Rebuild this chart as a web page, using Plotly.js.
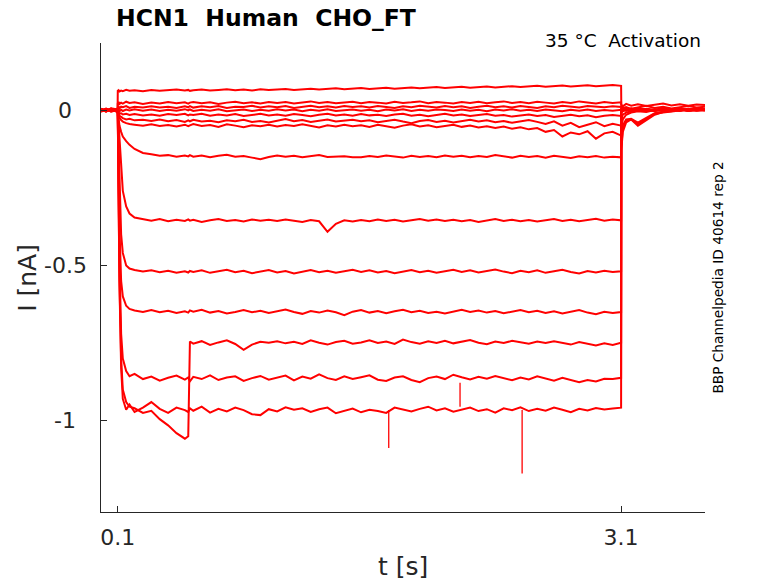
<!DOCTYPE html>
<html>
<head>
<meta charset="utf-8">
<script src="https://cdn.plot.ly/plotly-3.0.1.min.js"></script>
<style>
  html, body { margin: 0; padding: 0; background: #ffffff; }
  #chart { width: 778px; height: 583px; }
</style>
</head>
<body>
<div id="chart"></div>
<script>
// time base [s]: holding, step onset, step, tail
const t = [
  0, 0.03, 0.06, 0.099,
  0.1, 0.105, 0.11, 0.12, 0.13, 0.15, 0.17, 0.2, 0.25,
  0.3, 0.35, 0.4, 0.45, 0.5,
  0.52, 0.53,
  0.55, 0.6, 0.65, 0.7, 0.75, 0.8, 0.85, 0.9, 0.95, 1.0,
  1.05, 1.1, 1.15, 1.2, 1.25, 1.3, 1.35, 1.4, 1.45, 1.5,
  1.55, 1.6, 1.65, 1.7, 1.75, 1.8, 1.85, 1.9, 1.95, 2.0,
  2.05, 2.1, 2.15, 2.2, 2.25, 2.3, 2.35, 2.4, 2.45, 2.5,
  2.55, 2.6, 2.65, 2.7, 2.75, 2.8, 2.85, 2.9, 2.95, 3.0,
  3.05, 3.1,
  3.101, 3.11, 3.13, 3.16, 3.2, 3.25, 3.3, 3.35, 3.4, 3.45, 3.5, 3.55, 3.6
];

// current [nA], one array per sweep
const sweep01 = [
  0.004, -0.003, 0.006, 0.002,
  0.062, 0.064, 0.06, 0.063, 0.061, 0.065, 0.062, 0.064, 0.061,
  0.065, 0.062, 0.064, 0.066, 0.063,
  0.065, 0.062,
  0.064, 0.066, 0.063, 0.065, 0.067, 0.064, 0.066, 0.063, 0.067, 0.065,
  0.066, 0.068, 0.065, 0.067, 0.069, 0.066, 0.068, 0.07, 0.067, 0.069,
  0.071, 0.068, 0.07, 0.072, 0.069, 0.071, 0.073, 0.07, 0.072, 0.074,
  0.071, 0.073, 0.075, 0.072, 0.074, 0.076, 0.073, 0.075, 0.077, 0.074,
  0.076, 0.078, 0.075, 0.077, 0.079, 0.076, 0.078, 0.08, 0.077, 0.079,
  0.081, 0.078,
  0.018, 0.012, 0.02, 0.014, 0.019, 0.013, 0.017, 0.021, 0.015, 0.019, 0.014, 0.018, 0.016
];
const sweep02 = [
  -0.004, 0.005, -0.002, 0.003,
  0.022, 0.026, 0.02, 0.024, 0.021, 0.027, 0.023, 0.025, 0.02,
  0.024, 0.021, 0.026, 0.022, 0.025,
  0.021, 0.024,
  0.026, 0.022, 0.025, 0.02, 0.024, 0.027, 0.022, 0.025, 0.021, 0.026,
  0.023, 0.026, 0.021, 0.025, 0.028, 0.023, 0.026, 0.022, 0.025, 0.027,
  0.022, 0.026, 0.024, 0.021, 0.027, 0.023, 0.025, 0.028, 0.022, 0.026,
  0.024, 0.021, 0.026, 0.023, 0.027, 0.022, 0.025, 0.028, 0.023, 0.026,
  0.022, 0.027, 0.024, 0.021, 0.026, 0.023, 0.028, 0.024, 0.021, 0.026,
  0.023, 0.025,
  0.012, 0.006, 0.01, 0.004, 0.009, 0.014, 0.007, 0.011, 0.005, 0.01, 0.013, 0.008, 0.011
];
const sweep03 = [
  0.002, -0.005, 0.004, -0.002,
  0.008, 0.012, 0.006, 0.011, 0.009, 0.013, 0.007, 0.011, 0.008,
  0.012, 0.008, 0.011, 0.007, 0.012,
  0.009, 0.013,
  0.008, 0.012, 0.009, 0.013, 0.007, 0.011, 0.01, 0.014, 0.008, 0.012,
  0.009, 0.013, 0.007, 0.011, 0.014, 0.009, 0.012, 0.008, 0.013, 0.01,
  0.012, 0.008, 0.013, 0.01, 0.007, 0.012, 0.009, 0.014, 0.01, 0.008,
  0.013, 0.009, 0.012, 0.007, 0.011, 0.014, 0.009, 0.012, 0.008, 0.013,
  0.01, 0.007, 0.012, 0.009, 0.014, 0.01, 0.008, 0.013, 0.011, 0.009,
  0.012, 0.01,
  0.003, -0.002, 0.005, 0.001, 0.006, 0.002, -0.001, 0.004, 0.0, 0.005, 0.002, 0.006, 0.003
];
const sweep04 = [
  -0.006, 0.003, -0.004, 0.001,
  -0.002, 0.003, -0.004, 0.001, -0.003, 0.002, -0.001, 0.003, -0.002,
  0.002, -0.003, 0.001, -0.002, 0.003,
  -0.001, 0.002,
  -0.003, 0.001, -0.002, 0.003, -0.004, 0.0, 0.002, -0.003, 0.001, -0.002,
  0.003, -0.001, 0.002, -0.004, 0.001, -0.002, 0.003, -0.003, 0.0, 0.002,
  -0.002, 0.001, -0.004, 0.002, -0.001, 0.003, -0.003, 0.001, -0.002, 0.002,
  0.0, -0.003, 0.002, -0.002, 0.001, -0.004, 0.002, -0.001, 0.003, -0.002,
  0.001, -0.003, 0.002, -0.001, -0.004, 0.001, -0.002, 0.002, -0.003, 0.0,
  -0.002, 0.001,
  -0.004, 0.002, -0.003, 0.003, -0.002, 0.001, -0.003, 0.002, -0.001, 0.003, -0.002, 0.001, 0.0
];
const sweep05 = [
  0.003, -0.002, 0.005, -0.004,
  -0.005, -0.008, -0.011, -0.01, -0.014, -0.012, -0.016, -0.013, -0.017,
  -0.014, -0.018, -0.013, -0.016, -0.012,
  -0.017, -0.014,
  -0.016, -0.012, -0.018, -0.014, -0.017, -0.013, -0.019, -0.015, -0.012, -0.017,
  -0.014, -0.018, -0.013, -0.016, -0.02, -0.015, -0.012, -0.017, -0.014, -0.018,
  -0.013, -0.017, -0.015, -0.019, -0.014, -0.012, -0.018, -0.015, -0.02, -0.016,
  -0.012, -0.017, -0.014, -0.019, -0.015, -0.013, -0.018, -0.016, -0.021, -0.017,
  -0.014, -0.019, -0.016, -0.022, -0.018, -0.015, -0.02, -0.017, -0.023, -0.018,
  -0.016, -0.019,
  0.006, 0.0, 0.004, -0.002, 0.005, 0.001, -0.001, 0.003, 0.0, 0.004, -0.002, 0.002, 0.001
];
const sweep06 = [
  -0.002, 0.004, -0.005, 0.001,
  -0.006, -0.012, -0.018, -0.022, -0.026, -0.03, -0.028, -0.033, -0.031,
  -0.035, -0.03, -0.036, -0.032, -0.038,
  -0.033, -0.036,
  -0.031, -0.037, -0.034, -0.039, -0.033, -0.036, -0.031, -0.038, -0.035, -0.04,
  -0.034, -0.029, -0.036, -0.032, -0.038, -0.033, -0.03, -0.037, -0.035, -0.031,
  -0.036, -0.033, -0.039, -0.034, -0.031, -0.037, -0.042, -0.035, -0.032, -0.038,
  -0.034, -0.04, -0.036, -0.031, -0.037, -0.033, -0.039, -0.035, -0.041, -0.036,
  -0.032, -0.038, -0.045, -0.036, -0.05, -0.041, -0.055, -0.047, -0.039, -0.052,
  -0.044, -0.05,
  -0.03, -0.015, -0.008, -0.004, 0.002, -0.003, -0.001, 0.003, 0.0, -0.002, 0.002, -0.001, 0.001
];
const sweep07 = [
  0.005, -0.003, 0.002, -0.006,
  -0.01, -0.018, -0.025, -0.032, -0.037, -0.042, -0.045, -0.047, -0.05,
  -0.046, -0.051, -0.048, -0.053, -0.047,
  -0.052, -0.049,
  -0.045, -0.051, -0.048, -0.054, -0.046, -0.05, -0.055, -0.049, -0.052, -0.047,
  -0.053, -0.048, -0.051, -0.046, -0.05, -0.056, -0.049, -0.053, -0.047, -0.052,
  -0.049, -0.054, -0.047, -0.051, -0.057, -0.05, -0.046, -0.053, -0.049, -0.055,
  -0.051, -0.047, -0.054, -0.05, -0.056, -0.052, -0.058, -0.053, -0.06, -0.055,
  -0.062, -0.058, -0.07, -0.064, -0.085, -0.072, -0.078, -0.068, -0.092, -0.075,
  -0.07, -0.082,
  -0.06, -0.03, -0.015, -0.008, -0.004, -0.006, 0.0, -0.003, 0.002, -0.001, 0.001, -0.002, 0.0
];
const sweep08 = [
  0.001, -0.004, 0.003, -0.001,
  -0.005, -0.03, -0.05, -0.07, -0.085, -0.1, -0.112, -0.125, -0.138,
  -0.142, -0.147, -0.145, -0.15, -0.146,
  -0.149, -0.145,
  -0.15, -0.146, -0.152, -0.147, -0.144, -0.15, -0.148, -0.153, -0.158, -0.151,
  -0.146, -0.15, -0.147, -0.152, -0.148, -0.145, -0.151, -0.149, -0.149, -0.152,
  -0.152, -0.148, -0.151, -0.146, -0.15, -0.153, -0.147, -0.151, -0.148, -0.152,
  -0.146, -0.15, -0.147, -0.152, -0.148, -0.151, -0.145, -0.149, -0.153, -0.147,
  -0.151, -0.148, -0.153, -0.147, -0.15, -0.154, -0.149, -0.152, -0.148, -0.153,
  -0.15, -0.152,
  0.0, 0.006, 0.002, 0.005, -0.001, 0.004, 0.001, 0.006, 0.003, -0.001, 0.004, 0.0, 0.003
];
const sweep09 = [
  -0.003, 0.002, -0.001, 0.004,
  -0.002, -0.05, -0.1, -0.2, -0.26, -0.31, -0.333, -0.346, -0.352,
  -0.356, -0.351, -0.358, -0.353, -0.357,
  -0.352, -0.356,
  -0.353, -0.36, -0.355, -0.351, -0.357, -0.354, -0.359, -0.352, -0.356, -0.353,
  -0.357, -0.352, -0.356, -0.36, -0.354, -0.358, -0.392, -0.366, -0.355, -0.359,
  -0.354, -0.358, -0.352, -0.357, -0.353, -0.359, -0.355, -0.351, -0.356, -0.352,
  -0.357, -0.353, -0.358, -0.354, -0.36, -0.355, -0.351, -0.357, -0.353, -0.358,
  -0.354, -0.359, -0.355, -0.351, -0.357, -0.353, -0.358, -0.354, -0.35, -0.356,
  -0.352, -0.355,
  0.003, -0.004, 0.004, -0.001, 0.002, -0.003, 0.003, 0.0, 0.002, -0.002, 0.003, 0.001, -0.001
];
const sweep10 = [
  0.002, -0.004, 0.001, -0.003,
  -0.01, -0.12, -0.25, -0.4, -0.46, -0.5, -0.51, -0.515, -0.52,
  -0.516, -0.522, -0.517, -0.524, -0.519,
  -0.523, -0.518,
  -0.521, -0.516, -0.524, -0.519, -0.514, -0.522, -0.517, -0.525, -0.52, -0.515,
  -0.523, -0.518, -0.526, -0.52, -0.515, -0.522, -0.517, -0.524, -0.519, -0.514,
  -0.521, -0.516, -0.523, -0.518, -0.525, -0.52, -0.515, -0.522, -0.517, -0.524,
  -0.519, -0.514, -0.521, -0.516, -0.523, -0.518, -0.513, -0.52, -0.525, -0.517,
  -0.522, -0.516, -0.524, -0.519, -0.514, -0.521, -0.526, -0.518, -0.523, -0.517,
  -0.521, -0.519,
  -0.005, 0.004, 0.0, 0.005, -0.002, 0.003, -0.001, 0.004, 0.001, 0.005, 0.0, 0.003, 0.002
];
const sweep11 = [
  -0.004, 0.003, -0.002, 0.002,
  -0.02, -0.2, -0.38, -0.55, -0.6, -0.63, -0.64, -0.645, -0.65,
  -0.644, -0.651, -0.646, -0.653, -0.648,
  -0.652, -0.645,
  -0.649, -0.643, -0.652, -0.647, -0.655, -0.65, -0.644, -0.651, -0.646, -0.653,
  -0.648, -0.642, -0.65, -0.656, -0.647, -0.652, -0.645, -0.651, -0.66, -0.649,
  -0.644, -0.652, -0.647, -0.654, -0.648, -0.643, -0.651, -0.646, -0.653, -0.649,
  -0.655, -0.648, -0.643, -0.65, -0.645, -0.652, -0.647, -0.654, -0.649, -0.644,
  -0.651, -0.646, -0.653, -0.648, -0.655, -0.65, -0.644, -0.652, -0.657, -0.649,
  -0.653, -0.65,
  0.004, -0.003, 0.002, -0.004, 0.003, 0.0, -0.002, 0.003, -0.001, 0.002, -0.003, 0.001, 0.0
];
const sweep12 = [
  0.003, -0.002, 0.004, -0.005,
  -0.02, -0.3, -0.55, -0.8, -0.9, -0.94, -0.955, -0.96, -0.975,
  -0.968, -0.995, -1.015, -1.04, -1.058,
  -1.05, -0.745,
  -0.752, -0.744, -0.756, -0.748, -0.741, -0.753, -0.772, -0.755, -0.746, -0.749,
  -0.744, -0.751, -0.746, -0.753, -0.741, -0.749, -0.755, -0.747, -0.743, -0.752,
  -0.748, -0.741, -0.75, -0.745, -0.753, -0.739, -0.747, -0.752, -0.744, -0.75,
  -0.743, -0.751, -0.746, -0.74, -0.749, -0.754, -0.745, -0.75, -0.743, -0.748,
  -0.752, -0.745, -0.75, -0.744, -0.749, -0.755, -0.747, -0.753, -0.758, -0.751,
  -0.756, -0.749,
  -0.13, -0.07, -0.04, -0.03, -0.045, -0.028, -0.012, -0.008, -0.004, 0.0, 0.002, -0.001, 0.001
];
const sweep13 = [
  -0.001, 0.004, -0.003, 0.002,
  -0.02, -0.25, -0.48, -0.72, -0.8, -0.84, -0.857, -0.849, -0.866,
  -0.858, -0.871, -0.862, -0.855, -0.868,
  -0.861, -0.873,
  -0.859, -0.866, -0.854, -0.869, -0.861, -0.857, -0.872, -0.863, -0.856, -0.868,
  -0.862, -0.855, -0.87, -0.858, -0.865, -0.851, -0.863, -0.869, -0.857, -0.866,
  -0.86, -0.854, -0.868, -0.872, -0.861, -0.857, -0.869, -0.876, -0.863, -0.858,
  -0.866, -0.852, -0.86, -0.867, -0.859, -0.865, -0.856, -0.862, -0.87, -0.861,
  -0.867, -0.857, -0.864, -0.871, -0.862, -0.868, -0.876, -0.869, -0.874, -0.865,
  -0.866, -0.862,
  -0.09, -0.05, -0.03, -0.028, -0.04, -0.025, -0.01, -0.005, 0.0, 0.003, -0.002, 0.001, 0.0
];
const sweep14 = [
  0.004, -0.003, 0.002, -0.002,
  -0.02, -0.3, -0.56, -0.83, -0.93, -0.965, -0.948, -0.972, -0.958,
  -0.94, -0.962, -0.975, -0.958, -0.966,
  -0.972, -0.96,
  -0.968, -0.955, -0.974, -0.962, -0.97, -0.958, -0.966, -0.979, -0.982, -0.963,
  -0.97, -0.957, -0.965, -0.96, -0.972, -0.963, -0.958, -0.976, -0.968, -0.961,
  -0.973, -0.965, -0.969, -0.975, -0.958, -0.964, -0.97, -0.962, -0.955, -0.967,
  -0.96, -0.971, -0.964, -0.958, -0.969, -0.963, -0.974, -0.96, -0.966, -0.957,
  -0.969, -0.962, -0.968, -0.958, -0.965, -0.973, -0.962, -0.967, -0.959, -0.964,
  -0.961, -0.958,
  -0.12, -0.06, -0.035, -0.03, -0.05, -0.032, -0.015, -0.006, -0.004, 0.001, -0.001, 0.002, -0.001
];

// single-sample artefacts (time, baseline, tip)
const spikeT = [1.715, 2.14, 2.51];
const spikeFrom = [-0.966, -0.878, -0.966];
const spikeTo = [-1.088, -0.955, -1.17];

const xTickVals = [0.1, 3.1];
const xTickText = ["0.1", "3.1"];
const yTickVals = [0, -0.5, -1];
const yTickText = ["0", "-0.5", "-1"];

const sweeps = [sweep01, sweep02, sweep03, sweep04, sweep05, sweep06, sweep07,
  sweep08, sweep09, sweep10, sweep11, sweep12, sweep13, sweep14];

const RED = "#ff0000";
const INK = "#262626";
const FONT = "DejaVu Sans, sans-serif";

const traces = sweeps.map((y) => ({
  type: "scatter",
  mode: "lines",
  x: t,
  y: y,
  line: { color: RED, width: 2 },
  hoverinfo: "skip",
  showlegend: false,
}));

// spikes as separate vertical segments
const spikeX = [];
const spikeY = [];
spikeT.forEach((s, i) => {
  spikeX.push(s, s, null);
  spikeY.push(spikeFrom[i], spikeTo[i], null);
});
traces.push({
  type: "scatter",
  mode: "lines",
  x: spikeX,
  y: spikeY,
  line: { color: RED, width: 1.3 },
  hoverinfo: "skip",
  showlegend: false,
});

// y tick labels drawn as annotations (centred, as in the original)
const yTickNotes = yTickVals.map((v, i) => ({
  text: yTickText[i],
  xref: "paper", yref: "y",
  x: -0.059, y: v,
  xanchor: "center", yanchor: "middle",
  showarrow: false,
  font: { family: FONT, size: 22, color: INK },
}));

const layout = {
  width: 778,
  height: 583,
  paper_bgcolor: "#ffffff",
  plot_bgcolor: "#ffffff",
  margin: { l: 101, r: 73, t: 43, b: 71 },
  font: { family: FONT, size: 22, color: INK },
  showlegend: false,
  xaxis: {
    range: [0, 3.6],
    showgrid: false,
    zeroline: false,
    showline: true,
    linecolor: INK,
    linewidth: 1,
    ticks: "inside",
    ticklen: 6,
    tickcolor: INK,
    tickvals: xTickVals,
    ticktext: xTickText,
    tickfont: { family: FONT, size: 22, color: INK },
    ticklabelstandoff: 6,
  },
  yaxis: {
    range: [-1.294, 0.216],
    showgrid: false,
    zeroline: false,
    showline: true,
    linecolor: INK,
    linewidth: 1,
    ticks: "inside",
    ticklen: 6,
    tickcolor: INK,
    tickvals: yTickVals,
    showticklabels: false,
  },
  annotations: [
    ...yTickNotes,
    {
      text: "<b>HCN1  Human  CHO_FT</b>",
      xref: "paper", yref: "paper",
      x: 0.021, y: 1.053,
      xanchor: "left", yanchor: "middle",
      showarrow: false,
      font: { family: FONT, size: 23.5, color: "#000000" },
    },
    {
      text: "35 °C  Activation",
      xref: "paper", yref: "paper",
      x: 0.997, y: 1.006,
      xanchor: "right", yanchor: "middle",
      showarrow: false,
      font: { family: FONT, size: 18.5, color: "#000000" },
    },
    {
      text: "BBP Channelpedia ID 40614 rep 2",
      xref: "paper", yref: "paper",
      x: 1.02, y: 0.5,
      xanchor: "center", yanchor: "middle",
      textangle: -90,
      showarrow: false,
      font: { family: FONT, size: 13.7, color: "#000000" },
    },
    {
      text: "I [nA]",
      xref: "paper", yref: "paper",
      x: -0.122, y: 0.5,
      xanchor: "center", yanchor: "middle",
      textangle: -90,
      showarrow: false,
      font: { family: FONT, size: 25, color: INK },
    },
    {
      text: "t [s]",
      xref: "paper", yref: "paper",
      x: 0.5, y: -0.117,
      xanchor: "center", yanchor: "middle",
      showarrow: false,
      font: { family: FONT, size: 25, color: INK },
    },
  ],
};

Plotly.newPlot("chart", traces, layout, { displayModeBar: false, staticPlot: true });
</script>
</body>
</html>
